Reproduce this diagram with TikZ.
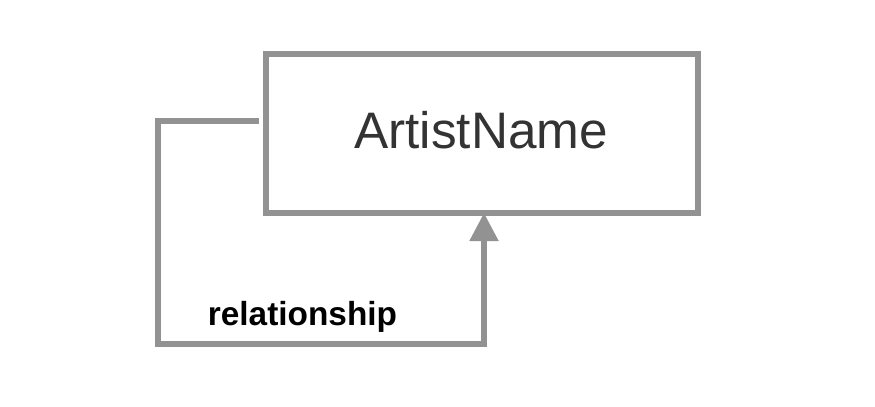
\documentclass[tikz,border=0pt]{standalone}
\usepackage{fontspec}
\setmainfont{Liberation Sans}
\usetikzlibrary{arrows.meta}
\definecolor{linegray}{HTML}{929292}
\definecolor{textgray}{HTML}{333333}
\begin{document}
\begin{tikzpicture}[x=1bp,y=-1bp,
  entbox/.style={draw=linegray, line width=5.5bp, rectangle, minimum width=432bp, minimum height=159bp, outer sep=0pt, inner sep=0pt},
  conn/.style={draw=linegray, line width=5.5bp, -{Triangle[length=28bp,width=28bp]}, fill=none},
  title/.style={text=textgray, font=\fontsize{51.5}{60}\selectfont, anchor=base, inner sep=0pt},
  lbl/.style={text=black, font=\bfseries\fontsize{33.5}{40}\selectfont, anchor=base, inner sep=0pt}]
\useasboundingbox (0,0) rectangle (875,406);
\node[entbox] (box) at (482,133.5) {};
\node[title] (name) at (481,148.7) {ArtistName};
\coordinate (s) at (259,121);
\coordinate (c1) at (158,121);
\coordinate (c2) at (158,344);
\coordinate (c3) at (484,344);
\draw[conn] (s) -- (c1) -- (c2) -- (c3) -- (c3 |- box.south);
\node[lbl] (rel) at (302.5,325) {relationship};
\end{tikzpicture}
\end{document}
